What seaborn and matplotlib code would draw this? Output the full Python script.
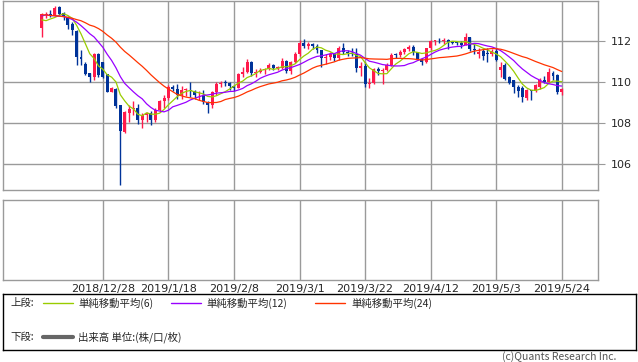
import numpy as np
import pandas as pd
import matplotlib
matplotlib.use('Agg')
import matplotlib.pyplot as plt
import seaborn as sns

sns.set_style('white')
plt.rcParams['font.family'] = ['DejaVu Sans', 'Noto Sans CJK JP']

# 日足 (2018/12/10 - 2019/5/24)
dates = pd.bdate_range('2018-12-10', '2019-05-24')

opens = [
    112.67, 113.30, 113.36, 113.27, 113.67, 113.38, 113.19, 112.86, 112.50, 111.23,
    110.91, 110.43, 110.24, 111.37, 110.99, 110.39, 109.53, 109.69, 108.88, 107.58,
    108.50, 108.70, 108.73, 108.17, 108.40, 108.48, 108.17, 108.65, 109.07, 109.25,
    109.77, 109.66, 109.37, 109.61, 109.64, 109.55, 109.36, 109.38, 109.03, 108.88,
    109.50, 109.90, 109.97, 109.95, 109.81, 109.73, 110.40, 110.48, 111.00, 110.47,
    110.50, 110.62, 110.65, 110.85, 110.69, 110.70, 111.06, 110.57, 111.00, 111.39,
    111.93, 111.76, 111.89, 111.76, 111.60, 111.17, 111.22, 111.37, 111.19, 111.70,
    111.48, 111.43, 111.40, 110.70, 110.82, 109.92, 109.95, 110.63, 110.55, 110.62,
    110.86, 111.35, 111.33, 111.48, 111.62, 111.71, 111.47, 111.16, 111.01, 111.66,
    112.02, 112.03, 112.00, 112.09, 111.96, 111.94, 111.93, 111.84, 112.20, 111.61,
    111.40, 111.55, 111.40, 111.38, 111.51, 110.60, 110.83, 110.26, 110.13, 109.77,
    109.72, 109.22, 109.60, 109.55, 109.77, 110.10, 110.02, 110.45, 110.34, 109.53,
]
highs = [
    113.40, 113.45, 113.55, 113.71, 113.72, 113.43, 113.22, 112.94, 112.55, 111.56,
    111.00, 110.45, 111.42, 111.45, 111.00, 110.40, 109.76, 109.72, 108.90, 108.60,
    108.88, 109.10, 108.95, 108.50, 108.55, 108.60, 108.75, 109.15, 109.40, 109.88,
    109.88, 109.90, 109.81, 109.73, 109.99, 109.60, 109.55, 109.60, 109.10, 109.58,
    109.99, 110.07, 110.10, 110.00, 109.88, 110.45, 110.76, 111.13, 111.06, 110.64,
    110.72, 110.70, 110.95, 110.91, 110.81, 111.18, 111.10, 111.05, 111.48, 112.08,
    112.13, 111.95, 111.90, 111.85, 111.60, 111.40, 111.50, 111.45, 111.78, 111.90,
    111.56, 111.68, 111.70, 111.00, 111.00, 110.20, 110.68, 110.73, 110.72, 110.95,
    111.45, 111.43, 111.60, 111.70, 111.84, 111.80, 111.50, 111.20, 111.70, 112.08,
    112.08, 112.15, 112.16, 112.10, 112.00, 112.00, 112.00, 112.40, 112.22, 111.90,
    111.70, 111.65, 111.70, 111.65, 111.69, 111.00, 110.93, 110.30, 110.13, 109.85,
    109.80, 109.65, 109.62, 109.92, 110.20, 110.30, 110.68, 110.55, 110.40, 109.70,
]
lows = [
    112.21, 113.15, 113.20, 113.25, 113.28, 113.06, 112.62, 112.29, 110.83, 110.83,
    110.38, 110.02, 110.10, 110.25, 110.20, 109.50, 109.50, 108.72, 104.98, 107.50,
    108.08, 108.40, 107.95, 107.75, 108.05, 107.90, 108.05, 108.55, 108.75, 109.15,
    109.55, 109.16, 109.20, 109.33, 109.30, 109.17, 109.15, 108.94, 108.50, 108.72,
    109.40, 109.75, 109.82, 109.62, 109.57, 109.70, 110.25, 110.45, 110.30, 110.28,
    110.45, 110.40, 110.60, 110.62, 110.60, 110.65, 110.43, 110.40, 110.95, 111.30,
    111.70, 111.65, 111.62, 111.45, 110.77, 110.90, 111.10, 111.05, 111.10, 111.40,
    111.30, 111.28, 110.50, 110.30, 109.75, 109.70, 109.90, 110.38, 109.90, 110.55,
    110.80, 111.20, 111.25, 111.40, 111.55, 111.35, 111.10, 110.85, 110.95, 111.60,
    111.84, 111.90, 111.85, 111.65, 111.85, 111.80, 111.70, 111.80, 111.55, 111.40,
    111.20, 111.10, 111.00, 111.30, 111.05, 110.28, 110.10, 109.90, 109.47, 109.28,
    109.03, 109.15, 109.12, 109.50, 109.65, 109.95, 109.95, 110.10, 109.45, 109.40,
]
closes = [
    113.32, 113.36, 113.30, 113.64, 113.32, 113.19, 112.78, 112.54, 111.23, 111.16,
    110.42, 110.24, 111.40, 110.34, 110.26, 109.53, 109.74, 108.83, 107.63, 108.55,
    108.70, 108.73, 108.17, 108.40, 108.48, 108.17, 108.65, 109.07, 109.25, 109.77,
    109.66, 109.37, 109.61, 109.64, 109.55, 109.36, 109.38, 109.03, 108.88, 109.50,
    109.90, 109.97, 109.95, 109.81, 109.73, 110.40, 110.48, 111.00, 110.47, 110.50,
    110.62, 110.65, 110.85, 110.69, 110.70, 111.06, 110.57, 111.00, 111.39, 111.93,
    111.76, 111.89, 111.76, 111.60, 111.17, 111.22, 111.37, 111.19, 111.70, 111.48,
    111.43, 111.40, 110.70, 110.82, 109.92, 109.95, 110.63, 110.55, 110.62, 110.86,
    111.35, 111.33, 111.48, 111.62, 111.71, 111.47, 111.16, 111.01, 111.66, 112.02,
    112.03, 112.00, 112.09, 111.96, 111.94, 111.93, 111.84, 112.20, 111.61, 111.56,
    111.48, 111.30, 111.38, 111.51, 111.10, 110.75, 110.18, 109.94, 109.77, 109.55,
    109.28, 109.61, 109.55, 109.85, 110.13, 110.02, 110.50, 110.30, 109.53, 109.69,
]
# 移動平均の計算用 (11/7 - 12/7 の終値)
prior_closes = [
    113.5, 114.0, 113.8, 113.9, 113.8, 113.6, 113.6, 112.8, 112.5, 112.8, 113.0, 112.9,
    112.9, 113.6, 113.8, 113.5, 113.4, 113.5, 113.6, 112.8, 113.2, 112.7, 112.7,
]

tick_labels = ['2018/12/28', '2019/1/18', '2019/2/8', '2019/3/1',
               '2019/3/22', '2019/4/12', '2019/5/3', '2019/5/24']
price_ticks = [106, 108, 110, 112]

ma_periods = [6, 12, 24]
ma_colors = ['#99cc00', '#9900ff', '#ff3300']
UP = '#ff1a4b'
DOWN = '#003399'
GRID = '#9a9a9a'

df = pd.DataFrame({'date': dates, 'open': opens, 'high': highs,
                   'low': lows, 'close': closes})
df['x'] = np.arange(len(df))
all_close = pd.Series(prior_closes + closes)
for n in ma_periods:
    df[f'ma{n}'] = all_close.rolling(n).mean().iloc[len(prior_closes):].values

tick_x = [int(df.index[df['date'] == pd.Timestamp(t.replace('/', '-'))][0])
          for t in tick_labels]

W, H = 638, 362
fig = plt.figure(figsize=(W / 100, H / 100), dpi=100)

def px(x0, y0, x1, y1):
    return [x0 / W, 1 - y1 / H, (x1 - x0) / W, (y1 - y0) / H]

ax = fig.add_axes(px(3, 0.5, 598, 190))
ax2 = fig.add_axes(px(3, 200, 598, 280))
xlim = (-8.85, 127.3)

# 上段: ローソク足
o = df['open'].values
c = df['close'].values
cols = np.where(c >= o, UP, DOWN)
body_lo = np.minimum(o, c)
body_h = np.maximum(np.abs(c - o), 0.04)
ax.vlines(df['x'], df['low'], df['high'], color=cols, lw=1, zorder=3)
ax.bar(df['x'], body_h, bottom=body_lo, width=0.68, color=cols, lw=0, zorder=3)

for n, col in zip(ma_periods, ma_colors):
    sns.lineplot(data=df, x='x', y=f'ma{n}', color=col, lw=0.9, ax=ax, zorder=4)

for a in (ax, ax2):
    a.set_xlim(*xlim)
    for xv in tick_x:
        a.axvline(xv, color=GRID, lw=1, zorder=1)
    for s in a.spines.values():
        s.set_color(GRID)
        s.set_linewidth(1)
    a.set_xlabel('')
    a.set_ylabel('')

ax.set_ylim(104.73, 114.0)
for yv in price_ticks:
    ax.axhline(yv, color=GRID, lw=1, zorder=1)
ax.set_yticks(price_ticks)
ax.set_yticklabels([str(v) for v in price_ticks], fontsize=8)
ax.yaxis.tick_right()
ax.tick_params(axis='y', length=5, color=GRID, pad=4, right=True, left=False)
ax.set_xticks([])

ax2.set_yticks([])
ax2.set_xticks(tick_x)
ax2.set_xticklabels(tick_labels, fontsize=8)
ax2.tick_params(axis='x', length=0, pad=3)

# 凡例
lg = fig.add_axes(px(3, 294, 636, 350))
lg.set_xticks([])
lg.set_yticks([])
for s in lg.spines.values():
    s.set_color('black')
    s.set_linewidth(1)

jp = ['Noto Sans CJK JP', 'DejaVu Sans']

def ftext(x, y, s, **kw):
    fig.text(x / W, 1 - y / H, s, va='center', family=jp, fontsize=7.5, **kw)

def fline(x0, x1, y, **kw):
    fig.add_artist(plt.Line2D([x0 / W, x1 / W], [1 - y / H, 1 - y / H], **kw))

ftext(10, 303, '上段:')
for (x0, tx), n, col in zip([(43, 78), (171, 206), (315, 351)], ma_periods, ma_colors):
    fline(x0, x0 + 30, 303, color=col, lw=1)
    ftext(tx, 303, f'単純移動平均({n})')
ftext(10, 337, '下段:')
fline(43, 73, 337, color='#666666', lw=3)
ftext(78, 337, '出来高 単位:(株/口/枚)')
ftext(616, 357, '(c)Quants Research Inc.', ha='right', color='#555555')

fig.savefig('out.png', dpi=100)
